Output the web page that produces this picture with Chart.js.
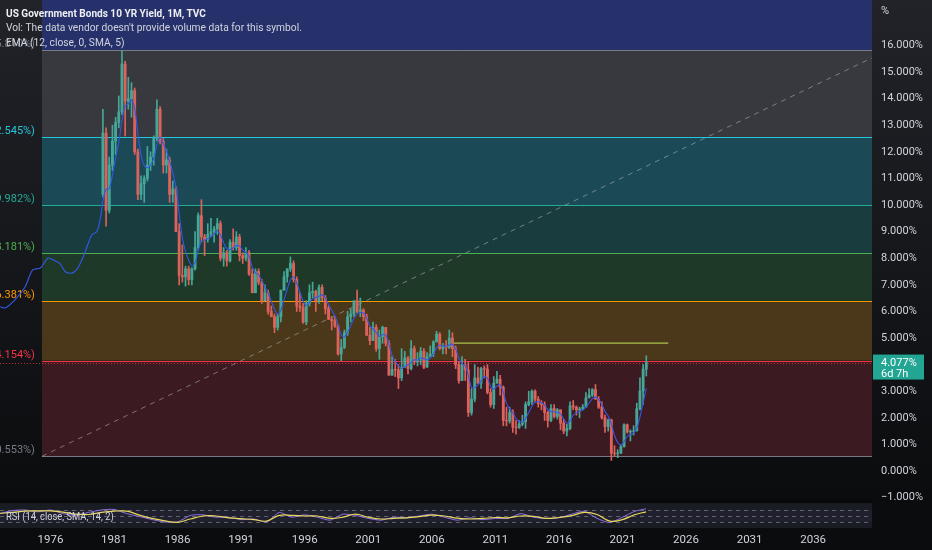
<!DOCTYPE html>
<html>
<head>
<meta charset="utf-8">
<script src="https://cdn.jsdelivr.net/npm/chart.js@4.4.1/dist/chart.umd.min.js"></script>
<style>
  html, body { margin: 0; padding: 0; background: #0a0b0d; }
  #wrap { position: relative; width: 932px; height: 550px; overflow: hidden;
          background: linear-gradient(#212329, #0b0c0e 90%); font-family: Roboto, sans-serif; }
  #chart { position: absolute; left: 0; top: 0; }
  .legend { position: absolute; left: 6px; color: #d1d4dc; font-size: 11.5px; line-height: 14px;
            white-space: nowrap; transform-origin: left center; transform: scaleX(0.89); }
</style>
</head>
<body>
<div id="wrap">
  <canvas id="chart" width="932" height="550"></canvas>
  <div class="legend" style="top:6px;font-weight:bold;color:#eceef2;transform:scaleX(0.875);">US Government Bonds 10 YR Yield, 1M, TVC</div>
  <div class="legend" style="top:20px;">Vol: The data vendor doesn't provide volume data for this symbol.</div>
  <div class="legend" style="top:35px;">EMA (12, close, 0, SMA, 5)</div>
</div>
<script>
// quarterly candles, 1980 Q1 .. 2022 Q4 (last one still open)
const firstYear = 1980;
const firstOpen = 10.4;
const closes = [
  12.7, 9.8, 11.5, 12.4,   13.1, 13.5, 15.3, 13.9,   14.0, 14.3, 12.0, 10.4,   10.8, 11.0, 11.5, 11.8,
  12.5, 13.6, 12.4, 11.5,  11.7, 10.4, 10.6, 9.0,    7.35, 7.3, 7.6, 7.2,      7.6, 8.4, 9.6, 8.8,
  8.7, 8.9, 9.0, 9.1,      9.3, 8.0, 8.2, 7.9,       8.6, 8.4, 8.8, 8.1,       8.0, 8.2, 7.4, 6.7,
  7.5, 7.1, 6.4, 6.7,      6.0, 5.8, 5.4, 5.8,       6.8, 7.3, 7.6, 7.8,       7.2, 6.2, 6.15, 5.6,
  6.3, 6.7, 6.75, 6.4,     6.9, 6.5, 6.1, 5.7,       5.65, 5.45, 4.4, 4.65,    5.2, 5.8, 5.9, 6.4,
  6.0, 6.05, 5.8, 5.1,     4.9, 5.4, 4.6, 5.05,      5.4, 4.8, 3.6, 3.82,      3.8, 3.5, 3.9, 4.25,
  3.85, 4.6, 4.1, 4.2,     4.5, 3.9, 4.3, 4.4,       4.85, 5.15, 4.6, 4.7,     4.65, 5.0, 4.6, 4.0,
  3.4, 4.0, 3.8, 2.2,      2.7, 3.5, 3.3, 3.85,      3.83, 2.95, 2.5, 3.3,     3.45, 3.15, 1.9, 1.88,
  2.2, 1.65, 1.63, 1.76,   1.85, 2.5, 2.6, 3.0,      2.7, 2.53, 2.49, 2.2,     1.9, 2.35, 2.05, 2.3,
  1.8, 1.5, 1.6, 2.45,     2.4, 2.3, 2.33, 2.4,      2.75, 2.85, 3.06, 2.7,    2.4, 2.0, 1.67, 1.92,
  0.67, 0.66, 0.68, 0.92,  1.74, 1.47, 1.49, 1.51,   2.34, 3.01, 3.83, 4.077
];
const highs = [
  13.6, 12.9, 11.8, 13.0,  13.3, 14.1, 15.8, 15.4,   14.8, 14.6, 14.4, 12.1,   11.1, 11.1, 12.2, 12.0,
  12.6, 13.95, 13.7, 12.5, 12.1, 11.8, 10.9, 10.7,   9.3, 8.5, 7.7, 7.7,       7.65, 9.0, 9.7, 10.2,
  8.9, 9.3, 9.5, 9.2,      9.5, 9.4, 8.4, 8.3,       8.7, 9.1, 9.0, 8.9,       8.2, 8.4, 8.3, 7.6,
  7.6, 7.6, 7.2, 7.0,      6.8, 6.2, 5.9, 5.9,       6.8, 7.5, 7.6, 8.05,      7.9, 7.3, 6.7, 6.3,
  6.4, 7.0, 7.1, 6.8,      7.0, 7.0, 6.6, 6.2,       5.8, 5.8, 5.5, 4.95,      5.3, 6.0, 6.1, 6.4,
  6.8, 6.5, 6.1, 5.9,      5.4, 5.6, 5.5, 5.3,       5.45, 5.4, 4.9, 4.3,      4.2, 4.0, 4.6, 4.5,
  4.3, 4.9, 4.7, 4.45,     4.65, 4.6, 4.45, 4.7,     4.9, 5.25, 5.2, 4.8,      4.9, 5.3, 5.2, 4.7,
  4.1, 4.3, 4.2, 4.1,      3.1, 4.0, 3.9, 3.9,       3.95, 4.0, 3.1, 3.55,     3.75, 3.6, 3.2, 2.4,
  2.4, 2.3, 1.9, 1.9,      2.1, 2.6, 3.0, 3.05,      3.05, 2.8, 2.65, 2.6,     2.25, 2.5, 2.5, 2.35,
  2.3, 1.95, 1.75, 2.6,    2.65, 2.45, 2.4, 2.5,     2.95, 3.1, 3.1, 3.25,     2.8, 2.6, 2.1, 1.95,
  1.95, 0.95, 0.8, 0.98,   1.77, 1.77, 1.55, 1.7,    2.55, 3.5, 4.0, 4.33
];
const lows = [
  10.3, 9.2, 9.7, 11.3,    11.9, 12.9, 13.4, 12.6,   13.6, 13.3, 11.9, 10.2,   10.2, 10.1, 10.9, 11.3,
  11.5, 12.4, 12.3, 11.2,  11.2, 10.1, 10.1, 9.0,    7.0, 7.1, 6.95, 7.0,      7.0, 7.55, 8.3, 8.6,
  8.1, 8.6, 8.8, 8.6,      8.9, 7.9, 7.7, 7.7,       7.85, 8.3, 8.3, 7.9,      7.8, 7.9, 7.35, 6.7,
  6.7, 7.0, 6.3, 6.4,      5.9, 5.8, 5.2, 5.3,       5.6, 6.8, 7.1, 7.5,       7.1, 6.0, 6.0, 5.55,
  5.5, 6.2, 6.5, 6.0,      6.3, 6.4, 5.9, 5.7,       5.3, 5.4, 4.35, 4.15,     4.6, 5.1, 5.6, 5.8,
  5.95, 5.8, 5.65, 5.1,    4.75, 4.9, 4.5, 4.2,      4.8, 4.7, 3.6, 3.6,       3.55, 3.1, 3.4, 3.9,
  3.65, 3.8, 4.0, 3.95,    4.0, 3.85, 3.9, 4.3,      4.3, 4.85, 4.55, 4.4,     4.4, 4.6, 4.3, 3.85,
  3.3, 3.4, 3.4, 2.05,     2.1, 2.6, 3.3, 3.1,       3.5, 2.9, 2.4, 2.35,      3.3, 2.85, 1.7, 1.7,
  1.8, 1.45, 1.38, 1.6,    1.7, 1.6, 2.45, 2.5,      2.6, 2.4, 2.3, 1.9,       1.65, 1.85, 2.0, 1.95,
  1.55, 1.4, 1.32, 1.55,   2.3, 2.1, 2.0, 2.3,       2.4, 2.75, 2.8, 2.7,      2.35, 1.95, 1.45, 1.5,
  0.4, 0.55, 0.5, 0.65,    0.9, 1.42, 1.13, 1.35,    1.5, 2.3, 2.5, 3.57
];

// EMA line before the first visible candle
const emaEarlyYears  = [1972.0, 1972.45, 1973.2, 1974.0, 1974.6, 1975.2, 1975.8, 1976.35, 1976.75, 1977.15, 1977.7, 1978.15, 1978.7, 1979.25, 1979.65, 1979.95];
const emaEarlyValues = [6.18, 6.13, 6.43, 6.92, 7.56, 7.63, 8.0, 7.9, 7.8, 7.5, 7.44, 7.63, 8.2, 8.87, 9.0, 9.55];
const emaAlpha = 0.39; // EMA(12) of monthly closes, per quarter

// RSI pane
const rsiYears = [1972, 1973, 1974, 1975, 1976, 1977, 1978, 1979, 1980, 1981, 1982, 1983, 1984, 1985, 1986, 1987, 1988,
  1989, 1990, 1991, 1992, 1993, 1994, 1995, 1996, 1997, 1998, 1999, 2000, 2001, 2002, 2003, 2004, 2005, 2006, 2007,
  2008, 2009, 2010, 2011, 2012, 2013, 2014, 2015, 2016, 2017, 2018, 2019, 2020, 2021, 2022, 2022.85];
const rsiValues = [58, 68, 70, 64, 70, 58, 52, 62, 70, 72, 58, 48, 38, 30, 30, 52, 54, 46, 46, 38, 40, 30, 62, 46, 54, 46,
  36, 56, 52, 42, 36, 46, 44, 50, 56, 46, 36, 44, 38, 42, 42, 58, 46, 42, 44, 56, 66, 42, 28, 46, 66, 74];
const rsiSma = [59, 62, 66, 67, 67, 63, 56, 55, 62, 66, 66, 53, 42, 34, 29, 40, 50, 50, 44, 41, 38, 33, 52, 52, 50, 50,
  42, 46, 56, 46, 40, 42, 44, 48, 53, 50, 43, 40, 42, 45, 44, 50, 49, 42, 45, 51, 62, 55, 33, 38, 55, 64];
const rsiLevels = [70, 50, 30];

// drawings
const fibStartYear = 1975.33;
const fibRatios = ['0', '0.236', '0.382', '0.5', '0.618', '0.786', '1', '1.618'];
const fibLevels = [0.553, 4.154, 6.381, 8.181, 9.982, 12.545, 15.810, 25.255];
const trendYears = [1975.33, 2040.63];
const trendValues = [0.553, 15.53];
const levelYears = [2007.67, 2024.6];
const levelValues = [4.81, 4.81];
const barCountdown = '6d 7h';

const xTickYears = [1976, 1981, 1986, 1991, 1996, 2001, 2006, 2011, 2016, 2021, 2026, 2031, 2036];
const yTickValues = [-1, 0, 1, 2, 3, 4, 5, 6, 7, 8, 9, 10, 11, 12, 13, 14, 15, 16];

const fibFills = ['#3c1a22', '#4b381a', '#1f3929', '#193d3e', '#1b4a56', '#38393f', '#26316b'];
const fibLines = ['#787b86', '#f23645', '#ff9800', '#4caf50', '#22ab94', '#26c6da', '#787b86', '#2962ff'];
const upColor = '#45a797';
const downColor = '#dc625c';

const quarterTimes = closes.map((_, i) => firstYear + i * 0.25 + 0.125);
const opens = closes.map((c, i) => (i === 0 ? firstOpen : closes[i - 1]));
const candleColor = (i) => (closes[i] >= opens[i] ? upColor : downColor);

const emaPoints = emaEarlyYears.map((t, i) => ({ x: t, y: emaEarlyValues[i] }));
let ema = emaEarlyValues[emaEarlyValues.length - 1];
closes.forEach((c, i) => {
  const next = ema + emaAlpha * (c - ema);
  emaPoints.push({ x: quarterTimes[i], y: (next + ema) / 2 });
  ema = next;
});

const panes = {
  id: 'panes',
  beforeDatasetsDraw(chart) {
    const { ctx, chartArea: a, scales: { x, y, yRsi } } = chart;
    ctx.save();
    ctx.beginPath();
    ctx.rect(a.left, a.top, a.right - a.left, a.bottom - a.top);
    ctx.clip();

    const x0 = x.getPixelForValue(fibStartYear);
    for (let i = 0; i < fibLevels.length - 1; i++) {
      const yA = y.getPixelForValue(fibLevels[i]);
      const yB = y.getPixelForValue(fibLevels[i + 1]);
      ctx.fillStyle = fibFills[i];
      ctx.fillRect(x0, yB, a.right - x0, yA - yB);
    }
    ctx.font = '11px Roboto';
    ctx.textAlign = 'right';
    fibLevels.forEach((lv, i) => {
      const py = Math.round(y.getPixelForValue(lv)) + 0.5;
      if (py < a.top) return;
      ctx.strokeStyle = fibLines[i];
      ctx.lineWidth = 1;
      ctx.beginPath();
      ctx.moveTo(x0, py);
      ctx.lineTo(a.right, py);
      ctx.stroke();
      ctx.fillStyle = fibLines[i];
      ctx.fillText(fibRatios[i] + '(' + lv.toFixed(3) + '%)', x0 - 7, py - 4);
    });

    // last price line
    const pLast = Math.round(y.getPixelForValue(closes[closes.length - 1])) + 0.5;
    ctx.strokeStyle = 'rgba(242,54,69,0.75)';
    ctx.setLineDash([1, 2]);
    ctx.beginPath();
    ctx.moveTo(a.left, pLast);
    ctx.lineTo(a.right, pLast);
    ctx.stroke();
    ctx.setLineDash([]);

    // RSI pane
    const pTop = yRsi.getPixelForValue(93);
    ctx.fillStyle = '#08090b';
    ctx.fillRect(a.left, pTop - 4, a.right - a.left, 4);
    ctx.fillStyle = '#1a1c24';
    ctx.fillRect(a.left, pTop, a.right - a.left, a.bottom - pTop);
    ctx.fillStyle = 'rgba(126,87,194,0.07)';
    const p70 = yRsi.getPixelForValue(rsiLevels[0]);
    const p30 = yRsi.getPixelForValue(rsiLevels[2]);
    ctx.fillRect(a.left, p70, a.right - a.left, p30 - p70);
    ctx.strokeStyle = 'rgba(130,133,145,0.65)';
    ctx.setLineDash([4, 4]);
    rsiLevels.forEach((lv) => {
      const py = Math.round(yRsi.getPixelForValue(lv)) + 0.5;
      ctx.beginPath();
      ctx.moveTo(a.left, py);
      ctx.lineTo(a.right, py);
      ctx.stroke();
    });
    ctx.setLineDash([]);
    ctx.restore();
  },
  afterDraw(chart) {
    const { ctx, chartArea: a, scales: { y, yRsi } } = chart;
    ctx.save();
    ctx.font = '11px Roboto';
    ctx.textAlign = 'left';
    ctx.textBaseline = 'middle';
    ctx.fillStyle = '#d1d4dc';
    ctx.save();
    ctx.translate(6, yRsi.getPixelForValue(47));
    ctx.scale(0.85, 1);
    ctx.fillText('RSI (14, close, SMA, 14, 2)', 0, 0);
    ctx.restore();

    // last price tag
    const last = closes[closes.length - 1];
    const py = y.getPixelForValue(last);
    ctx.fillStyle = '#22a592';
    ctx.fillRect(a.right + 1, py - 8, 51, 25);
    ctx.fillStyle = '#ffffff';
    ctx.fillText(last.toFixed(3) + '%', a.right + 9, py + 0.5);
    ctx.fillText(barCountdown, a.right + 9, py + 11.5);
    ctx.fillStyle = '#d1d4dc';
    ctx.fillText('%', a.right + 9, 11);
    ctx.restore();
  }
};

new Chart(document.getElementById('chart'), {
  type: 'bar',
  data: {
    datasets: [
      {
        type: 'line', data: emaPoints, borderColor: '#3358e6', borderWidth: 1.1,
        pointRadius: 0, tension: 0.3, yAxisID: 'y'
      },
      {
        type: 'bar', grouped: false, barThickness: 2.2, borderWidth: 0,
        data: closes.map((c, i) => ({ x: quarterTimes[i], y: [opens[i], c] })),
        backgroundColor: (ctx) => candleColor(ctx.dataIndex), yAxisID: 'y'
      },
      {
        type: 'bar', grouped: false, barThickness: 1, borderWidth: 0,
        data: closes.map((c, i) => ({ x: quarterTimes[i], y: [lows[i], highs[i]] })),
        backgroundColor: (ctx) => candleColor(ctx.dataIndex), yAxisID: 'y'
      },
      {
        type: 'line', data: levelYears.map((t, i) => ({ x: t, y: levelValues[i] })),
        borderColor: '#a9c24c', borderWidth: 1.2, pointRadius: 0, yAxisID: 'y'
      },
      {
        type: 'line', data: trendYears.map((t, i) => ({ x: t, y: trendValues[i] })),
        borderColor: 'rgba(170,173,182,0.6)', borderWidth: 1, borderDash: [5, 5], pointRadius: 0, yAxisID: 'y'
      },
      {
        type: 'line', data: rsiYears.map((t, i) => ({ x: t, y: rsiSma[i] })),
        borderColor: '#e8d95a', borderWidth: 1.2, pointRadius: 0, tension: 0.4, yAxisID: 'yRsi'
      },
      {
        type: 'line', data: rsiYears.map((t, i) => ({ x: t, y: rsiValues[i] })),
        borderColor: '#9071e6', borderWidth: 1, pointRadius: 0, tension: 0.2, yAxisID: 'yRsi'
      }
    ]
  },
  options: {
    responsive: false,
    animation: false,
    devicePixelRatio: 1,
    events: [],
    layout: { padding: 0 },
    plugins: { legend: { display: false }, tooltip: { enabled: false } },
    scales: {
      x: {
        type: 'linear', axis: 'x', min: 1972.03, max: 2040.63, offset: false,
        grid: { display: false, drawTicks: false, offset: false }, border: { display: false },
        afterBuildTicks: (s) => { s.ticks = xTickYears.map((v) => ({ value: v })); },
        afterFit: (s) => { s.height = 22; s.paddingLeft = 0; s.paddingRight = 0; },
        ticks: {
          color: '#d1d4dc', font: { family: 'Roboto', size: 11.5 }, padding: 5,
          maxRotation: 0, autoSkip: false, callback: (v) => String(v)
        }
      },
      y: {
        type: 'linear', axis: 'y', position: 'right', min: -2.143, max: 17.707,
        grid: { display: false, drawTicks: false }, border: { display: false },
        afterBuildTicks: (s) => { s.ticks = yTickValues.map((v) => ({ value: v })); },
        afterFit: (s) => { s.width = 60; s.paddingTop = 0; s.paddingBottom = 0; },
        ticks: {
          color: '#d1d4dc', font: { family: 'Roboto', size: 11 }, padding: 9,
          callback: (v) => (v < 0 ? '\u2212' + Math.abs(v).toFixed(3) : v.toFixed(3)) + '%'
        }
      },
      yRsi: { type: 'linear', axis: 'y', position: 'left', display: false, min: 10, max: 1770 }
    }
  },
  plugins: [panes]
});
</script>
</body>
</html>
